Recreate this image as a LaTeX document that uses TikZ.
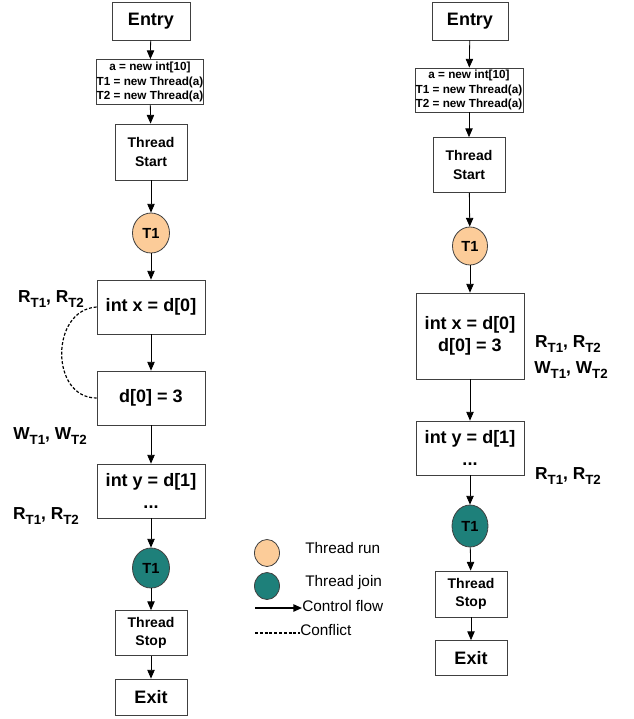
\documentclass[tikz,border=0pt]{standalone}
\usepackage{fontspec}
\setmainfont{Liberation Sans}
\usetikzlibrary{arrows.meta}
\usetikzlibrary{shapes.geometric}
\usetikzlibrary{positioning}

\definecolor{runfill}{RGB}{252,204,153}
\definecolor{joinfill}{RGB}{30,128,122}

\newcommand{\thr}[1]{\raisebox{-0.45ex}{\fontsize{10}{10}\selectfont #1}}

\tikzset{
	blk/.style={draw=black!75, line width=0.6pt, fill=white, align=center, inner sep=0pt,
		font=\bfseries\fontsize{13.5}{17}\selectfont},
	small/.style={blk, font=\bfseries\fontsize{10.5}{14}\selectfont},
	tiny/.style={blk, font=\bfseries\fontsize{8.8}{11.2}\selectfont},
	thr/.style={ellipse, draw=black!75, line width=0.6pt, inner sep=0pt,
		minimum width=27.75pt, minimum height=30pt, font=\bfseries\fontsize{11}{12}\selectfont},
	acc/.style={font=\bfseries\fontsize{13}{15}\selectfont, inner sep=0pt},
	leg/.style={font=\fontsize{11.5}{13}\selectfont, inner sep=0pt, anchor=west},
	flow/.style={-{Triangle[length=6.5pt,width=5.5pt]}, line width=0.6pt},
	conf/.style={dash pattern=on 2.2pt off 1.4pt, line width=0.9pt}
}

\begin{document}
\begin{tikzpicture}[x=0.75pt, y=-0.75pt]
		\useasboundingbox (0,0) rectangle (634,719);

		% left graph
		\node[blk, minimum width=58.5pt, minimum height=28.5pt] (entryL) at (151,21) {Entry};
		\node[tiny, minimum width=80.25pt, minimum height=33.75pt] (initL) at (150,82)
			{a = new int[10]\\T1 = new Thread(a)\\T2 = new Thread(a)};
		\node[small, minimum width=54pt, minimum height=42pt] (startL) at (151,152) {Thread\\Start};
		\node[thr, fill=runfill] (runL) at (151,233) {T1};
		\node[blk, minimum width=81pt, minimum height=40.5pt] (readL) at (151,307) {int x = d[0]};
		\node[blk, minimum width=81pt, minimum height=40.5pt] (writeL) at (151,398) {d[0] = 3};
		\node[blk, minimum width=81pt, minimum height=40.5pt] (nextL) at (151,491) {int y = d[1]\\...};
		\node[thr, fill=joinfill] (joinL) at (151,568) {T1};
		\node[small, minimum width=54pt, minimum height=33.75pt] (stopL) at (151,633) {Thread\\Stop};
		\node[blk, minimum width=54pt, minimum height=27pt] (exitL) at (151,697) {Exit};

		\foreach \a/\b in {entryL/initL, initL/startL, startL/runL, runL/readL, readL/writeL,
			writeL/nextL, nextL/joinL, joinL/stopL, stopL/exitL} {
			\draw[flow] (\a) -- (\b);
		}
		\draw[conf] (readL.west) .. controls (50,310) and (50,398) .. (writeL.west);

		\node[acc] (rdL) at (51,299) {R\thr{T1}, R\thr{T2}};
		\node[acc] (wrL) at (50,436) {W\thr{T1}, W\thr{T2}};
		\node[acc] (rnL) at (46,516) {R\thr{T1}, R\thr{T2}};

		% right graph
		\node[blk, minimum width=57pt, minimum height=28.5pt] (entryR) at (470,21) {Entry};
		\node[tiny, minimum width=81pt, minimum height=33pt] (initR) at (469,90)
			{a = new int[10]\\T1 = new Thread(a)\\T2 = new Thread(a)};
		\node[small, minimum width=54pt, minimum height=41.25pt] (startR) at (469,165) {Thread\\Start};
		\node[thr, fill=runfill, minimum width=26.25pt, minimum height=28.5pt] (runR) at (470,246) {T1};
		\node[blk, minimum width=81pt, minimum height=64.5pt] (readR) at (470,336) {int x = d[0]\\d[0] = 3};
		\node[blk, minimum width=81pt, minimum height=40.5pt] (nextR) at (470,448) {int y = d[1]\\...};
		\node[thr, fill=joinfill, minimum width=27pt, minimum height=31.5pt] (joinR) at (470,526) {T1};
		\node[small, minimum width=54pt, minimum height=34.5pt] (stopR) at (471,594) {Thread\\Stop};
		\node[blk, minimum width=54pt, minimum height=26.25pt] (exitR) at (471,658) {Exit};

		\foreach \a/\b in {entryR/initR, initR/startR, startR/runR, runR/readR, readR/nextR,
			nextR/joinR, joinR/stopR, stopR/exitR} {
			\draw[flow] (\a) -- (\b);
		}

		\node[acc] (rdR) at (568,344) {R\thr{T1}, R\thr{T2}};
		\node[acc] (wrR) at (571,370) {W\thr{T1}, W\thr{T2}};
		\node[acc] (rnR) at (568,476) {R\thr{T1}, R\thr{T2}};

		% legend
		\node[thr, fill=runfill, minimum width=18.75pt, minimum height=20.25pt] (legRun) at (267,553) {};
		\node[leg] (legRunT) at (305,548) {Thread run};
		\node[thr, fill=joinfill, minimum width=18.75pt, minimum height=20.25pt] (legJoin) at (267,586) {};
		\node[leg] (legJoinT) at (305,583) {Thread join};
		\node[leg] (legFlowT) at (302,606) {Control flow};
		\coordinate (legFlowA) at (255,608);
		\draw[flow, line width=1.2pt] (legFlowA) -- (legFlowT.west |- legFlowA);
		\node[leg] (legConfT) at (300,630) {Conflict};
		\coordinate (legConfA) at (255,633);
		\draw[conf] (legConfA) -- (legConfT.west |- legConfA);
	\end{tikzpicture}
\end{document}
